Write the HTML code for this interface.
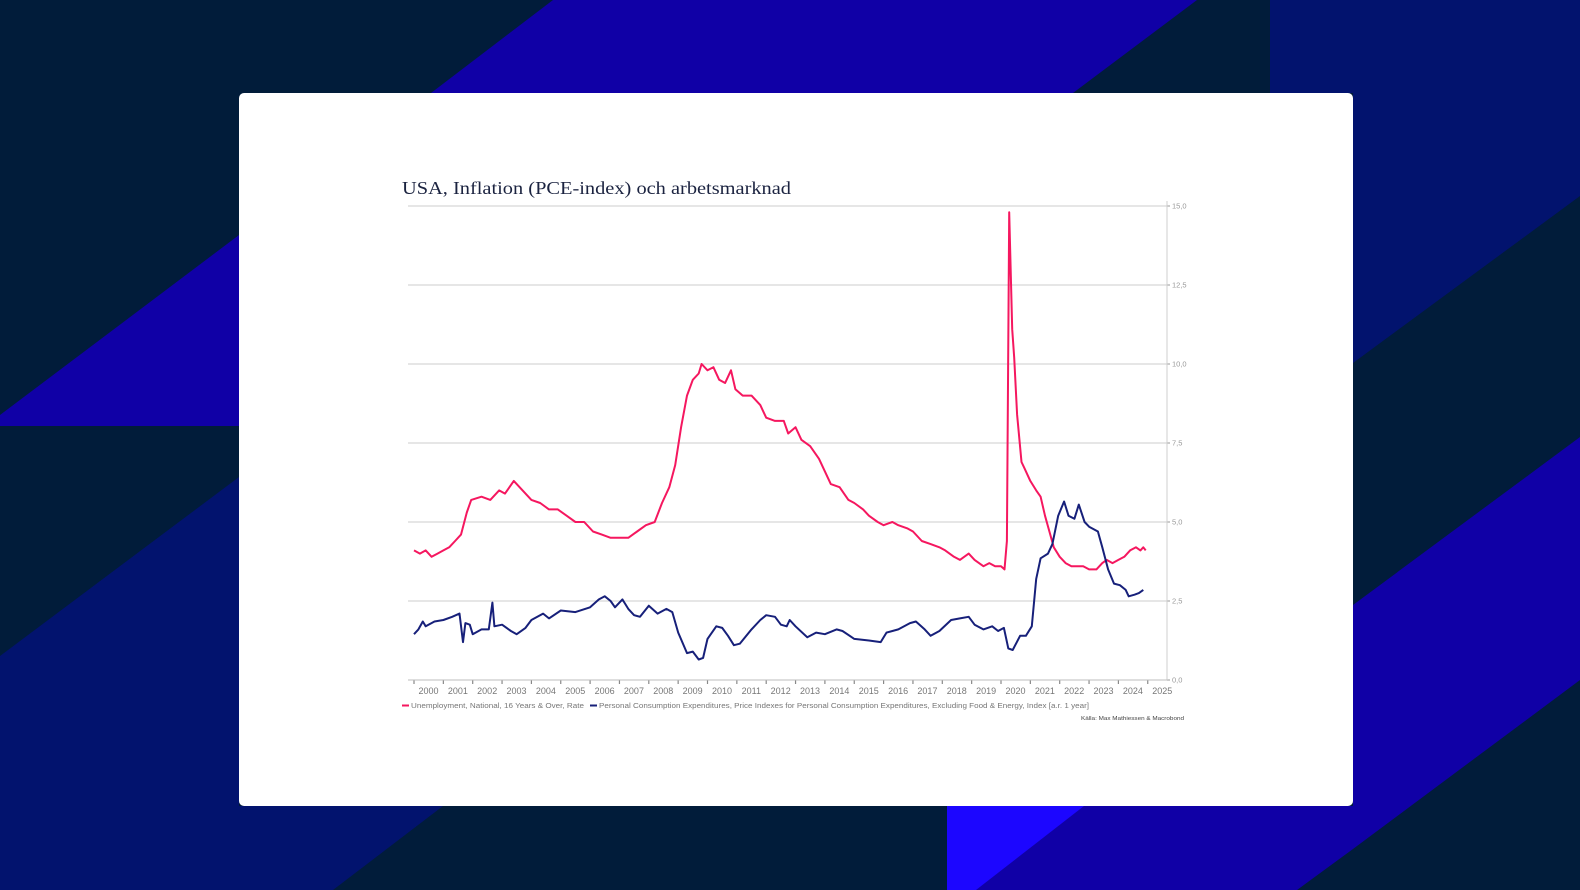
<!DOCTYPE html>
<html><head><meta charset="utf-8"><style>
html,body{margin:0;padding:0;width:1580px;height:890px;overflow:hidden;background:#011c3a}
</style></head><body>
<svg id="s" width="1580" height="890" viewBox="0 0 1580 890" xmlns="http://www.w3.org/2000/svg" style="position:absolute;left:0;top:0">
<rect width="1580" height="890" fill="#011c3a"/>
<polygon points="553,0 1197,0 1073,93 431,93" fill="#1000a6"/>
<polygon points="0,415 239,235 239,426 0,426" fill="#1000a6"/>
<polygon points="0,656 239,477 239,890 0,890" fill="#02136e"/>
<polygon points="239,806 443,806 333,890 239,890" fill="#02136e"/>
<polygon points="1270,0 1580,0 1580,196 1353,363 1353,93 1270,93" fill="#02136e"/>
<polygon points="1353,605 1580,437 1580,680 1353,849" fill="#1000a6"/>
<polygon points="947,806 1353,806 1353,849 1297,890 947,890" fill="#1000a6"/>
<polygon points="947,806 1084,806 976,890 947,890" fill="#1c06ff"/>
<rect x="239" y="93" width="1114" height="713" rx="5" fill="#ffffff"/>
<text x="402" y="194" font-family="Liberation Serif, serif" font-size="18" fill="#1b2340" textLength="389" lengthAdjust="spacingAndGlyphs">USA, Inflation (PCE-index) och arbetsmarknad</text>
<g id="grid" stroke="#d6d6d6" stroke-width="1.2"></g>
<line x1="1167" y1="201" x2="1167" y2="680" stroke="#cfcfcf" stroke-width="1"/>
<line x1="408" y1="680" x2="1167" y2="680" stroke="#bdbdbd" stroke-width="1"/>
<g id="yl" font-family="Liberation Sans, sans-serif" font-size="7.5" fill="#999"></g>
<g id="xl" font-family="Liberation Sans, sans-serif" font-size="9" fill="#777" text-anchor="middle"></g>
<path id="pk" fill="none" stroke="#f5175f" stroke-width="2" stroke-linejoin="round"/>
<path id="bl" fill="none" stroke="#17207a" stroke-width="2" stroke-linejoin="round"/>
<rect x="402" y="704.5" width="7" height="2" fill="#f5175f"/>
<text x="411" y="708" font-family="Liberation Sans, sans-serif" font-size="7.6" fill="#777" textLength="173" lengthAdjust="spacingAndGlyphs">Unemployment, National, 16 Years &amp; Over, Rate</text>
<rect x="590" y="704.5" width="7" height="2" fill="#17207a"/>
<text x="599" y="708" font-family="Liberation Sans, sans-serif" font-size="7.6" fill="#777" textLength="490" lengthAdjust="spacingAndGlyphs">Personal Consumption Expenditures, Price Indexes for Personal Consumption Expenditures, Excluding Food &amp; Energy, Index [a.r. 1 year]</text>
<text x="1081" y="720" font-family="Liberation Sans, sans-serif" font-size="5.8" fill="#444" textLength="103" lengthAdjust="spacingAndGlyphs">Källa: Max Mathiessen &amp; Macrobond</text>
</svg>
<script>
var X=function(t){return 414+29.35*(t-2000)},Y=function(v){return 680-v*31.6};
var ns="http://www.w3.org/2000/svg";
var g=document.getElementById('grid'),yl=document.getElementById('yl'),xl=document.getElementById('xl');
[2.5,5,7.5,10,12.5,15].forEach(function(v){var l=document.createElementNS(ns,'line');l.setAttribute('x1',408);l.setAttribute('x2',1167);l.setAttribute('y1',Y(v));l.setAttribute('y2',Y(v));g.appendChild(l);});
[0,2.5,5,7.5,10,12.5,15].forEach(function(v){var t=document.createElementNS(ns,'text');t.setAttribute('x',1172);t.setAttribute('y',Y(v)+2.5);t.textContent=v.toFixed(1).replace('.',',');yl.appendChild(t);
var l=document.createElementNS(ns,'line');l.setAttribute('x1',1167);l.setAttribute('x2',1170);l.setAttribute('y1',Y(v));l.setAttribute('y2',Y(v));l.setAttribute('stroke','#aaa');g.appendChild(l);});
for(var y=2000;y<=2025;y++){var t=document.createElementNS(ns,'text');t.setAttribute('x',X(y)+14.5);t.setAttribute('y',694);t.textContent=y;xl.appendChild(t);
var l=document.createElementNS(ns,'line');l.setAttribute('x1',X(y));l.setAttribute('x2',X(y));l.setAttribute('y1',680);l.setAttribute('y2',684);l.setAttribute('stroke','#888');g.appendChild(l);}
var U=[2000,4.1,2000.2,4.0,2000.4,4.1,2000.6,3.9,2000.8,4.0,2001,4.1,2001.2,4.2,2001.4,4.4,2001.6,4.6,2001.8,5.3,2001.95,5.7,2002.3,5.8,2002.6,5.7,2002.9,6.0,2003.1,5.9,2003.4,6.3,2003.7,6.0,2004.0,5.7,2004.3,5.6,2004.6,5.4,2004.9,5.4,2005.2,5.2,2005.5,5.0,2005.8,5.0,2006.1,4.7,2006.4,4.6,2006.7,4.5,2007.0,4.5,2007.3,4.5,2007.6,4.7,2007.9,4.9,2008.2,5.0,2008.45,5.6,2008.7,6.1,2008.9,6.8,2009.1,8.0,2009.3,9.0,2009.5,9.5,2009.7,9.7,2009.8,10.0,2010.0,9.8,2010.2,9.9,2010.4,9.5,2010.6,9.4,2010.8,9.8,2010.95,9.2,2011.2,9.0,2011.5,9.0,2011.8,8.7,2012.0,8.3,2012.3,8.2,2012.6,8.2,2012.75,7.8,2013.0,8.0,2013.2,7.6,2013.5,7.4,2013.8,7.0,2014.0,6.6,2014.2,6.2,2014.5,6.1,2014.8,5.7,2015.0,5.6,2015.3,5.4,2015.5,5.2,2015.8,5.0,2016.0,4.9,2016.3,5.0,2016.5,4.9,2016.8,4.8,2017.0,4.7,2017.3,4.4,2017.6,4.3,2017.9,4.2,2018.1,4.1,2018.4,3.9,2018.6,3.8,2018.9,4.0,2019.1,3.8,2019.4,3.6,2019.6,3.7,2019.8,3.6,2020.0,3.6,2020.12,3.5,2020.2,4.4,2020.28,14.8,2020.38,11.1,2020.45,10.2,2020.55,8.4,2020.7,6.9,2020.8,6.7,2021.0,6.3,2021.2,6.0,2021.35,5.8,2021.5,5.2,2021.65,4.7,2021.8,4.2,2022.0,3.9,2022.2,3.7,2022.4,3.6,2022.6,3.6,2022.8,3.6,2023.0,3.5,2023.25,3.5,2023.45,3.7,2023.6,3.8,2023.8,3.7,2024.0,3.8,2024.2,3.9,2024.4,4.1,2024.6,4.2,2024.75,4.1,2024.85,4.2,2024.93,4.1];
var B=[2000,1.45,2000.15,1.6,2000.3,1.85,2000.4,1.7,2000.7,1.85,2001,1.9,2001.3,2.0,2001.55,2.1,2001.67,1.2,2001.75,1.8,2001.9,1.75,2002.0,1.45,2002.3,1.6,2002.55,1.6,2002.67,2.45,2002.74,1.7,2003.0,1.75,2003.3,1.55,2003.5,1.45,2003.8,1.65,2004.0,1.9,2004.4,2.1,2004.6,1.95,2005.0,2.2,2005.5,2.15,2006.0,2.3,2006.3,2.55,2006.5,2.65,2006.7,2.5,2006.85,2.3,2007.1,2.55,2007.3,2.25,2007.5,2.05,2007.7,2.0,2008.0,2.35,2008.3,2.1,2008.6,2.25,2008.8,2.15,2009.0,1.5,2009.3,0.85,2009.5,0.9,2009.7,0.65,2009.85,0.7,2010.0,1.3,2010.3,1.7,2010.5,1.65,2010.7,1.4,2010.9,1.1,2011.1,1.15,2011.5,1.6,2011.8,1.9,2012.0,2.05,2012.3,2.0,2012.5,1.75,2012.7,1.7,2012.8,1.9,2013.0,1.7,2013.4,1.35,2013.7,1.5,2014.0,1.45,2014.4,1.6,2014.6,1.55,2015.0,1.3,2015.5,1.25,2015.9,1.2,2016.1,1.5,2016.5,1.6,2016.9,1.8,2017.1,1.85,2017.4,1.6,2017.6,1.4,2017.9,1.55,2018.3,1.9,2018.6,1.95,2018.9,2.0,2019.1,1.75,2019.4,1.6,2019.7,1.7,2019.9,1.55,2020.1,1.65,2020.25,1.0,2020.4,0.95,2020.65,1.4,2020.85,1.4,2021.05,1.7,2021.2,3.2,2021.35,3.85,2021.6,4.0,2021.75,4.3,2021.95,5.2,2022.15,5.65,2022.3,5.2,2022.5,5.1,2022.65,5.55,2022.85,5.0,2023.0,4.85,2023.3,4.7,2023.45,4.2,2023.65,3.5,2023.85,3.05,2024.05,3.0,2024.25,2.85,2024.35,2.65,2024.55,2.7,2024.7,2.75,2024.85,2.85];
function P(a){var d='';for(var i=0;i<a.length;i+=2){d+=(i?'L':'M')+X(a[i]).toFixed(1)+','+Y(a[i+1]).toFixed(1);}return d;}
document.getElementById('pk').setAttribute('d',P(U));
document.getElementById('bl').setAttribute('d',P(B));
</script>
</body></html>
